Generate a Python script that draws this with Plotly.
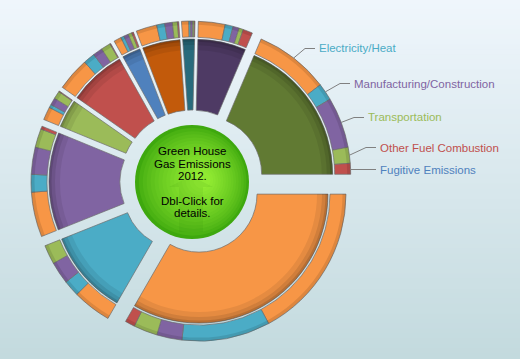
import math
import plotly.graph_objects as go

W, H = 520, 359

# ---------------- data (clockwise from 3 o'clock) ----------------
regions = ["Region 1", "Region 2", "Region 3", "Region 4", "Region 5",
           "Region 6", "Region 7", "Region 8", "Region 9", "Region 10"]
region_colors = ["#f79646", "#4bacc6", "#8064a2", "#9bbb59", "#c0504d",
                 "#4f81bd", "#c25a0b", "#286b7c", "#4e3a64", "#617a33"]

subsectors = ["Electricity/Heat", "Manufacturing/Construction", "Transportation",
              "Other Fuel Combustion", "Fugitive Emissions"]
sub_colors = ["#f79646", "#4bacc6", "#8064a2", "#9bbb59", "#c0504d"]
label_colors = ["#4bacc6", "#8064a2", "#9bbb59", "#c0504d", "#4f81bd"]

electricity    = [61.7, 15.4, 17.8, 5.2, 13.2, 3.0, 8.3, 2.9, 10.6, 29.5]
manufacturing  = [35.0, 6.4, 7.0, 1.3, 4.6, 1.3, 3.2, 0.7, 3.2, 6.8]
transportation = [10.0, 8.8, 10.7, 2.8, 3.8, 1.8, 3.0, 0.8, 2.4, 20.1]
other_fuel     = [9.4, 7.6, 7.4, 3.1, 3.8, 1.5, 2.0, 0.6, 1.7, 6.3]
fugitive       = [3.9, 0.0, 1.2, 0.3, 0.3, 0.7, 0.5, 0.3, 3.8, 4.3]

center_lines = ["Green House", "Gas Emissions", "2012.", "Dbl-Click for", "details."]
labelled_region = 9  # the region whose outer ring is annotated

# ---------------- geometry / style ----------------
CX, CY = 192, 182          # chart centre in px
S = 150                    # half size of each polar domain in px (1 radial unit = 1 px)
EXPLODE = 14
R_IN, R_MID, R_MID2, R_OUT = 58, 129, 131, 147
EDGE = dict(color="#6e6e6e", width=0.7)
FONT = "Liberation Sans, Arial, sans-serif"

def px(x):
    return x / W

def py(y):
    return 1 - y / H

sub_lists = [electricity, manufacturing, transportation, other_fuel, fugitive]
totals = [sum(s[i] for s in sub_lists) for i in range(len(regions))]
deg = 360.0 / sum(totals)

fig = go.Figure()
layout_polars = {}
anchors = []
start = 0.0
for i, name in enumerate(regions):
    span = totals[i] * deg
    bis = start + span / 2
    dx = EXPLODE * math.cos(math.radians(bis))
    dy = EXPLODE * math.sin(math.radians(bis))
    cx, cy = CX + dx, CY + dy
    key = "polar" if i == 0 else f"polar{i+1}"
    layout_polars[key] = dict(
        domain=dict(x=[px(cx - S), px(cx + S)], y=[py(cy + S), py(cy - S)]),
        bgcolor="rgba(0,0,0,0)",
        radialaxis=dict(visible=False, range=[0, S]),
        angularaxis=dict(visible=False, direction="clockwise", rotation=0),
    )
    # inner ring
    fig.add_trace(go.Barpolar(
        r=[R_MID - R_IN], base=[R_IN], theta=[bis], width=[span],
        marker=dict(color=region_colors[i], line=EDGE),
        name=name, hovertext=[f"{name}: {totals[i]:.1f}"], hoverinfo="text",
        subplot=key, showlegend=False))
    # shadow towards outer edge of inner ring
    for (b, t, a) in [(118, 129, 0.07), (123, 129, 0.09), (126.5, 129, 0.12)]:
        fig.add_trace(go.Barpolar(
            r=[t - b], base=[b], theta=[bis], width=[span],
            marker=dict(color=f"rgba(0,0,0,{a})", line=dict(width=0)),
            hoverinfo="skip", subplot=key, showlegend=False))
    # outer ring
    pos = start
    thetas, widths, cols, texts, rs, bases = [], [], [], [], [], []
    for j, s in enumerate(sub_lists):
        v = s[i] * deg
        if v > 0:
            thetas.append(pos + v / 2)
            widths.append(v)
            cols.append(sub_colors[j])
            texts.append(f"{name} - {subsectors[j]}: {s[i]:.1f}")
            rs.append(R_OUT - R_MID2)
            bases.append(R_MID2)
            if i == labelled_region:
                a = math.radians(pos + v / 2)
                anchors.append((cx + R_OUT * math.cos(a), cy + R_OUT * math.sin(a)))
        elif i == labelled_region:
            anchors.append((cx + R_OUT, cy))
        pos += v
    fig.add_trace(go.Barpolar(
        r=rs, base=bases, theta=thetas, width=widths,
        marker=dict(color=cols, line=EDGE),
        hovertext=texts, hoverinfo="text", subplot=key, showlegend=False))
    fig.add_trace(go.Barpolar(
        r=[3.5], base=[R_OUT - 3.5], theta=[bis], width=[span],
        marker=dict(color="rgba(0,0,0,0.10)", line=dict(width=0)),
        hoverinfo="skip", subplot=key, showlegend=False))
    start += span

shapes = []
# background vertical gradient
top = (239, 246, 252)
bot = (195, 218, 222)
NB = 72
for k in range(NB):
    t = k / (NB - 1)
    c = tuple(round(top[m] + (bot[m] - top[m]) * t) for m in range(3))
    shapes.append(dict(type="rect", xref="paper", yref="paper", layer="below",
                       x0=0, x1=1, y0=1 - (k + 1) / NB, y1=1 - k / NB + 0.002,
                       fillcolor=f"rgb{c}", line=dict(width=0)))

# green centre disc (radial gradient via concentric circles)
GR = 57
edge_c = (62, 168, 14)
mid_c = (145, 234, 50)
NC = 16
for k in range(NC):
    t = k / (NC - 1)
    r = GR * (1 - 0.85 * t)
    ox, oy = CX + 10 * t, CY - 2 * t
    c = tuple(round(edge_c[m] + (mid_c[m] - edge_c[m]) * (t ** 0.7)) for m in range(3))
    shapes.append(dict(type="circle", xref="paper", yref="paper", layer="above",
                       x0=px(ox - r), x1=px(ox + r), y0=py(oy + r), y1=py(oy - r),
                       fillcolor=f"rgb{c}", line=dict(width=0)))
# faint arrow in the disc
arrow = [(191, 176), (213, 187), (203, 187), (203, 232), (179, 232), (179, 187), (169, 187)]
path = "M " + " L ".join(f"{px(x)},{py(y)}" for x, y in arrow) + " Z"
shapes.append(dict(type="path", xref="paper", yref="paper", layer="above", path=path,
                   fillcolor="rgba(30,110,0,0.08)", line=dict(width=0)))

# leader lines and labels
label_x = [317, 352, 366, 378, 378]
label_y = [48.5, 83.5, 117.5, 147.5, 169.5]
annotations = []
for j, lab in enumerate(subsectors):
    ax, ay = anchors[j]
    ex, ey = label_x[j] - 12, label_y[j]
    if abs(ay - ey) < 3:
        ex = ax
    p = f"M {px(ax)},{py(ay)} L {px(ex)},{py(ey)} L {px(label_x[j] - 2)},{py(label_y[j])}"
    shapes.append(dict(type="path", xref="paper", yref="paper", layer="above", path=p,
                       line=dict(color="#808080", width=1)))
    annotations.append(dict(x=px(label_x[j]), y=py(label_y[j]), xref="paper", yref="paper",
                            text=lab, showarrow=False, xanchor="left", yanchor="middle",
                            font=dict(family=FONT, size=11.5, color=label_colors[j])))

center_y = [151, 164, 176, 201, 213]
for line, yy in zip(center_lines, center_y):
    annotations.append(dict(x=px(CX), y=py(yy), xref="paper", yref="paper", text=line,
                            showarrow=False, xanchor="center", yanchor="middle",
                            font=dict(family=FONT, size=11.5, color="#000000")))

fig.update_layout(
    width=W, height=H, autosize=False,
    margin=dict(l=0, r=0, t=0, b=0),
    paper_bgcolor="#dcebf0", plot_bgcolor="rgba(0,0,0,0)",
    shapes=shapes, annotations=annotations, showlegend=False,
    **layout_polars,
)
fig.write_html("out.html", config={"displayModeBar": False},
               post_script="document.body.style.margin='0';document.body.style.overflow='hidden';")
